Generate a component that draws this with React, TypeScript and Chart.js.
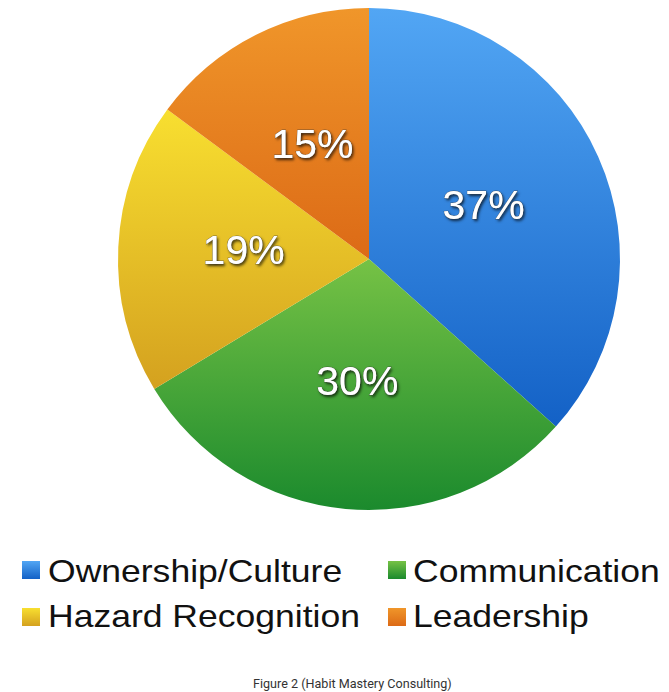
import React, { useEffect, useRef } from "react";
import { Chart, registerables } from "chart.js";

Chart.register(...registerables);

const categories = ["Ownership/Culture", "Communication", "Hazard Recognition", "Leadership"];
const shares = [37, 30, 19, 15];
const lightColors = ["#52a6f4", "#76c245", "#f8df30", "#f0962a"];
const darkColors = ["#1361c6", "#1b8a2d", "#d4a11f", "#dc6a16"];

function sliceGradient(chart: any, index: number) {
  const area = chart.chartArea;
  const ctx = chart.ctx;
  if (!area) return lightColors[index];
  const cx = (area.left + area.right) / 2;
  const cy = (area.top + area.bottom) / 2;
  const r = Math.min(area.right - area.left, area.bottom - area.top) / 2;
  const total = shares.reduce((a, b) => a + b, 0);
  let start = -Math.PI / 2;
  for (let i = 0; i < index; i++) start += (shares[i] / total) * Math.PI * 2;
  const end = start + (shares[index] / total) * Math.PI * 2;
  const ys = [cy, cy + r * Math.sin(start), cy + r * Math.sin(end)];
  const within = (a: number) => {
    let t = a;
    while (t < start) t += Math.PI * 2;
    return t <= end;
  };
  if (within(-Math.PI / 2)) ys.push(cy - r);
  if (within(Math.PI / 2)) ys.push(cy + r);
  const y0 = Math.min(...ys);
  const y1 = Math.max(...ys);
  const g = ctx.createLinearGradient(cx, y0, cx, y1);
  g.addColorStop(0, lightColors[index]);
  g.addColorStop(1, darkColors[index]);
  return g;
}

const labelPlugin = {
  id: "pctLabels",
  afterDatasetsDraw(chart: any) {
    const ctx = chart.ctx;
    const meta = chart.getDatasetMeta(0);
    ctx.save();
    ctx.font = '41px "Liberation Sans", Arial, sans-serif';
    ctx.textAlign = "center";
    ctx.textBaseline = "middle";
    meta.data.forEach((arc: any, i: number) => {
      const p = arc.getCenterPoint();
      const txt = shares[i] + "%";
      ctx.shadowColor = "rgba(0,0,0,0.75)";
      ctx.shadowBlur = 3;
      ctx.shadowOffsetX = 1.5;
      ctx.shadowOffsetY = 2;
      ctx.fillStyle = "#ffffff";
      ctx.fillText(txt, p.x, p.y);
      ctx.shadowColor = "transparent";
      ctx.lineWidth = 0.8;
      ctx.strokeStyle = "rgba(60,60,60,0.6)";
      ctx.strokeText(txt, p.x, p.y);
      ctx.fillText(txt, p.x, p.y);
    });
    ctx.restore();
  },
};

export default function App() {
  const ref = useRef<HTMLCanvasElement | null>(null);
  useEffect(() => {
    if (!ref.current) return;
    const chart = new Chart(ref.current, {
      type: "pie",
      data: {
        labels: categories,
        datasets: [
          {
            data: shares,
            backgroundColor: (c: any) => sliceGradient(c.chart, c.dataIndex),
            borderWidth: 0,
          },
        ],
      },
      options: {
        animation: false,
        responsive: false,
        maintainAspectRatio: false,
        layout: { padding: { left: 118, right: 49, top: 8, bottom: 10 } },
        plugins: {
          legend: { display: false },
          tooltip: { enabled: false },
        },
      },
      plugins: [labelPlugin],
    });
    return () => chart.destroy();
  }, []);

  const legendPos = [
    { box: [22, 561], text: [48, 555] },
    { box: [388, 561], text: [413, 555] },
    { box: [22, 608], text: [48, 600] },
    { box: [388, 608], text: [413, 600] },
  ];

  return (
    <div style={{ position: "absolute", left: 0, top: 0, width: 669, height: 692, background: "#fff", overflow: "hidden" }}>
      <canvas ref={ref} width={669} height={520} style={{ position: "absolute", left: 0, top: 0, width: 669, height: 520 }} />
      {categories.map((c, i) => (
        <React.Fragment key={c}>
          <div
            style={{
              position: "absolute",
              left: legendPos[i].box[0],
              top: legendPos[i].box[1],
              width: 18,
              height: 18,
              background: `linear-gradient(${lightColors[i]}, ${darkColors[i]})`,
            }}
          />
          <div
            style={{
              position: "absolute",
              left: legendPos[i].text[0],
              top: legendPos[i].text[1],
              fontFamily: '"Liberation Sans", Arial, sans-serif',
              fontSize: 32,
              lineHeight: "32px",
              color: "#111",
              whiteSpace: "nowrap",
              transform: "scaleX(1.11)",
              transformOrigin: "left top",
            }}
          >
            {c}
          </div>
        </React.Fragment>
      ))}
      <div
        style={{
          position: "absolute",
          left: 253,
          top: 676,
          fontFamily: "Roboto, sans-serif",
          fontSize: 12.6,
          lineHeight: "16px",
          color: "#333",
          whiteSpace: "nowrap",
        }}
      >
        Figure 2 (Habit Mastery Consulting)
      </div>
    </div>
  );
}
